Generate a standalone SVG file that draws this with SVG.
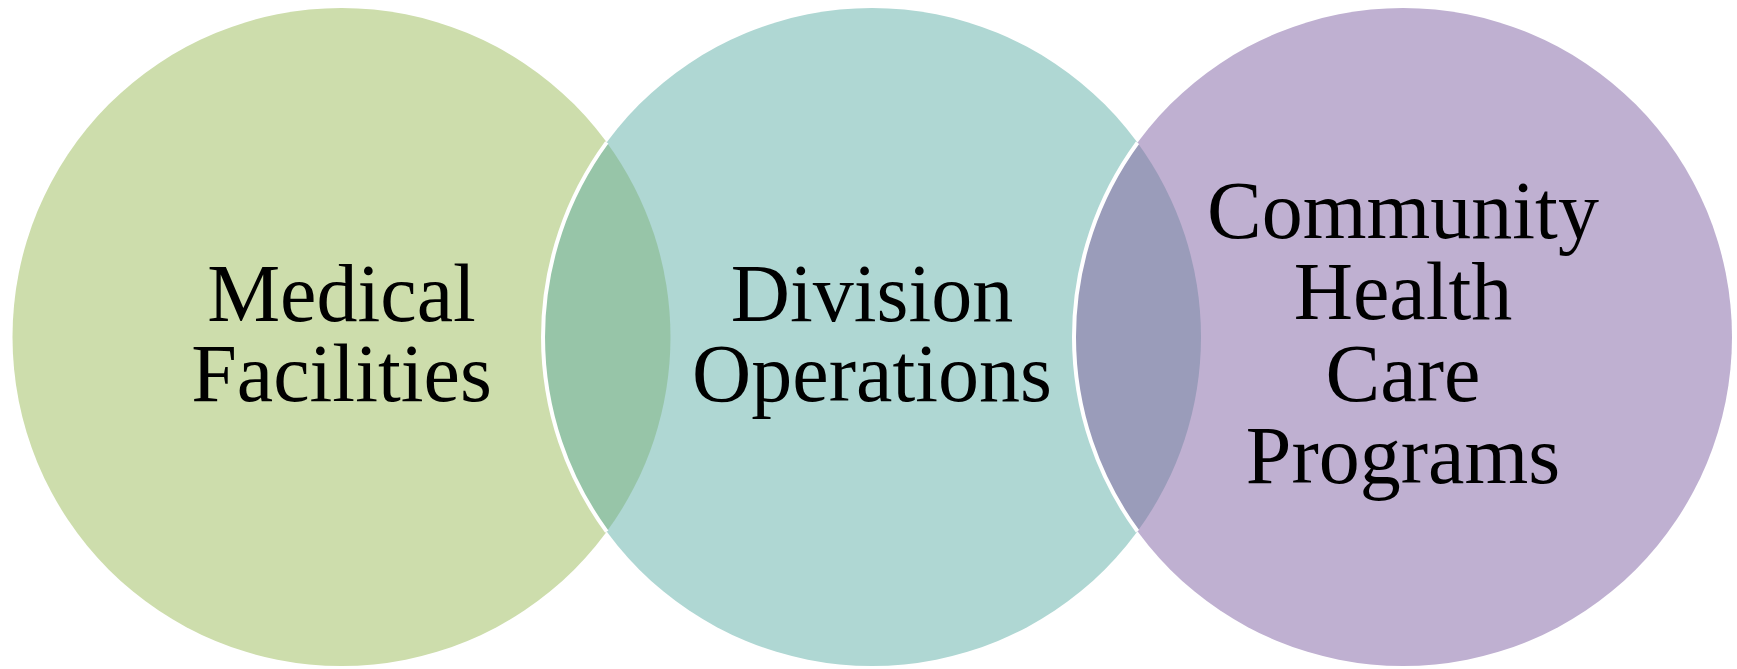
<svg xmlns="http://www.w3.org/2000/svg" width="1737" height="669" viewBox="0 0 1737 669">
<style>
.lbl{font-family:"Liberation Serif","Times New Roman",serif;font-size:82px;fill:#000;text-anchor:middle}
.edge{fill:none;stroke:#fff;stroke-width:4}
</style>
<rect width="1737" height="669" fill="#fff"/>
<g id="node-medical">
<circle cx="341.5" cy="337" r="329" fill="#CDDDAC"/>
</g>
<g id="node-division">
<circle cx="872" cy="337" r="329" fill="#AFD7D3"/>
</g>
<g id="node-community">
<circle cx="1403" cy="337" r="329" fill="#BFB0D1"/>
</g>
<g id="overlaps">
<path d="M606.75,142.4 A329,329 0 0 1 606.75,531.6 A329,329 0 0 1 606.75,142.4 Z" fill="#97C5A8"/>
<path d="M1137.5,142.7 A329,329 0 0 1 1137.5,531.3 A329,329 0 0 1 1137.5,142.7 Z" fill="#9A9CBA"/>
<path class="edge" d="M606.75,142.4 A329,329 0 0 0 606.75,531.6"/>
<path class="edge" d="M1137.5,142.7 A329,329 0 0 0 1137.5,531.3"/>
</g>
<g id="labels">
<text class="lbl" x="341.5" y="321">Medical</text>
<text class="lbl" x="341.5" y="401">Facilities</text>
<text class="lbl" x="872" y="321">Division</text>
<text class="lbl" x="872" y="401">Operations</text>
<text class="lbl" x="1403" y="238">Community</text>
<text class="lbl" x="1403" y="319">Health</text>
<text class="lbl" x="1403" y="401">Care</text>
<text class="lbl" x="1403" y="483">Programs</text>
</g>
</svg>
